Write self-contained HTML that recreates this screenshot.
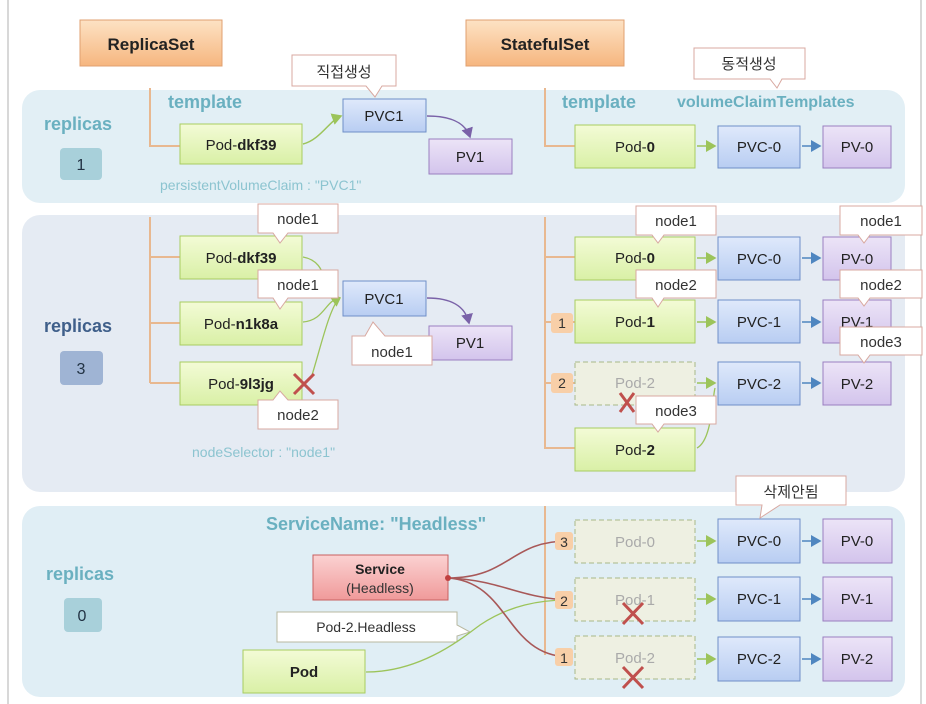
<!DOCTYPE html>
<html><head><meta charset="utf-8"><style>
html,body{margin:0;padding:0;background:#fff}
svg{display:block}
text{font-family:"Liberation Sans","Noto Sans CJK KR",sans-serif}
</style></head><body>
<svg width="926" height="704" viewBox="0 0 926 704" xmlns="http://www.w3.org/2000/svg">
<defs>
<linearGradient id="go" x1="0" y1="0" x2="0" y2="1"><stop offset="0" stop-color="#fde2c4"/><stop offset="1" stop-color="#f6b67f"/></linearGradient>
<linearGradient id="gg" x1="0" y1="0" x2="0" y2="1"><stop offset="0" stop-color="#f3fbd6"/><stop offset="1" stop-color="#d9f0a6"/></linearGradient>
<linearGradient id="gb" x1="0" y1="0" x2="0" y2="1"><stop offset="0" stop-color="#dfe9fb"/><stop offset="1" stop-color="#b8cdf2"/></linearGradient>
<linearGradient id="gp" x1="0" y1="0" x2="0" y2="1"><stop offset="0" stop-color="#ece4f7"/><stop offset="1" stop-color="#d3c4ec"/></linearGradient>
<linearGradient id="gr" x1="0" y1="0" x2="0" y2="1"><stop offset="0" stop-color="#fbd2d2"/><stop offset="1" stop-color="#f09a9a"/></linearGradient>
<marker id="ag" markerWidth="8" markerHeight="8" refX="6" refY="4" orient="auto"><path d="M0,0 L7,4 L0,8 z" fill="#9cc45a"/></marker>
<marker id="ab" markerWidth="8" markerHeight="8" refX="6" refY="4" orient="auto"><path d="M0,0 L7,4 L0,8 z" fill="#4f86c0"/></marker>
<marker id="ap" markerWidth="8" markerHeight="8" refX="6" refY="4" orient="auto"><path d="M0,0 L7,4 L0,8 z" fill="#7a62a8"/></marker>
</defs>
<line x1="8" y1="0" x2="8" y2="704" stroke="#d8d8d8" stroke-width="2"/>
<line x1="921" y1="0" x2="921" y2="704" stroke="#d8d8d8" stroke-width="2"/>
<!-- panels -->
<rect x="22" y="90" width="883" height="113" rx="18" fill="#e2eff5"/>
<rect x="22" y="215" width="883" height="277" rx="18" fill="#e5ebf3"/>
<rect x="22" y="506" width="883" height="191" rx="18" fill="#e0eef5"/>
<!-- headers -->
<rect x="80" y="20" width="142" height="46" fill="url(#go)" stroke="#e0a070"/>
<text x="151" y="50" font-size="17" font-weight="bold" text-anchor="middle" fill="#222">ReplicaSet</text>
<rect x="466" y="20" width="158" height="46" fill="url(#go)" stroke="#e0a070"/>
<text x="545" y="50" font-size="17" font-weight="bold" text-anchor="middle" fill="#222">StatefulSet</text>

<!-- panel 1 -->
<text x="78" y="130" font-size="18" font-weight="bold" fill="#6ab0c0" text-anchor="middle">replicas</text>
<rect x="60" y="148" width="42" height="32" rx="4" fill="#a8d0da"/>
<text x="81" y="170" font-size="16" text-anchor="middle" fill="#234">1</text>
<text x="168" y="108" font-size="18" font-weight="bold" fill="#6ab0c0">template</text>
<polyline points="150,88 150,146 180,146" fill="none" stroke="#e8b890" stroke-width="2"/>
<rect x="180" y="124" width="122" height="40" fill="url(#gg)" stroke="#a8cc60"/>
<text x="241" y="150" font-size="15" text-anchor="middle" fill="#222">Pod-<tspan font-weight="bold">dkf39</tspan></text>
<text x="160" y="190" font-size="14" fill="#8cc4d0">persistentVolumeClaim : "PVC1"</text>
<path d="M303,144 C320,140 330,120 341,116" fill="none" stroke="#9cc45a" stroke-width="1.5" marker-end="url(#ag)"/>
<rect x="343" y="99" width="83" height="33" fill="url(#gb)" stroke="#6f8fc8"/>
<text x="384" y="121" font-size="15" text-anchor="middle" fill="#222">PVC1</text>
<path d="M427,116 C450,116 465,122 470,137" fill="none" stroke="#7a62a8" stroke-width="1.5" marker-end="url(#ap)"/>
<rect x="429" y="139" width="83" height="35" fill="url(#gp)" stroke="#9a7fc0"/>
<text x="470" y="162" font-size="15" text-anchor="middle" fill="#222">PV1</text>
<path d="M292,55 H396 V86 H382 L375,97 L366,86 H292 Z" fill="#fff" stroke="#d8a8a0"/>
<text x="344" y="77" font-size="15" text-anchor="middle" fill="#333">직접생성</text>

<text x="562" y="108" font-size="18" font-weight="bold" fill="#6ab0c0">template</text>
<text x="677" y="107" font-size="16" font-weight="bold" fill="#6ab0c0">volumeClaimTemplates</text>
<polyline points="545,88 545,146 575,146" fill="none" stroke="#e8b890" stroke-width="2"/>
<rect x="575" y="125" width="120" height="43" fill="url(#gg)" stroke="#a8cc60"/>
<text x="635" y="152" font-size="15" text-anchor="middle" fill="#222">Pod-<tspan font-weight="bold">0</tspan></text>
<line x1="697" y1="146" x2="715" y2="146" stroke="#9cc45a" stroke-width="1.5" marker-end="url(#ag)"/>
<rect x="718" y="126" width="82" height="42" fill="url(#gb)" stroke="#6f8fc8"/>
<text x="759" y="152" font-size="15" text-anchor="middle" fill="#222">PVC-0</text>
<line x1="802" y1="146" x2="820" y2="146" stroke="#4f86c0" stroke-width="1.5" marker-end="url(#ab)"/>
<rect x="823" y="126" width="68" height="42" fill="url(#gp)" stroke="#9a7fc0"/>
<text x="857" y="152" font-size="15" text-anchor="middle" fill="#222">PV-0</text>
<path d="M694,48 H805 V79 H782 L777,88 L770,79 H694 Z" fill="#fff" stroke="#d8a8a0"/>
<text x="749" y="69" font-size="15" text-anchor="middle" fill="#333">동적생성</text>

<!-- panel 2 left -->
<text x="78" y="332" font-size="18" font-weight="bold" fill="#3f5f8a" text-anchor="middle">replicas</text>
<rect x="60" y="351" width="43" height="34" rx="4" fill="#9fb4d4"/>
<text x="81" y="374" font-size="16" text-anchor="middle" fill="#234">3</text>
<polyline points="150,217 150,383" fill="none" stroke="#e8b890" stroke-width="2"/>
<line x1="150" y1="257" x2="180" y2="257" stroke="#e8b890" stroke-width="2"/>
<line x1="150" y1="323" x2="180" y2="323" stroke="#e8b890" stroke-width="2"/>
<line x1="150" y1="383" x2="180" y2="383" stroke="#e8b890" stroke-width="2"/>
<rect x="180" y="236" width="122" height="43" fill="url(#gg)" stroke="#a8cc60"/>
<text x="241" y="263" font-size="15" text-anchor="middle" fill="#222">Pod-<tspan font-weight="bold">dkf39</tspan></text>
<rect x="180" y="302" width="122" height="43" fill="url(#gg)" stroke="#a8cc60"/>
<text x="241" y="329" font-size="15" text-anchor="middle" fill="#222">Pod-<tspan font-weight="bold">n1k8a</tspan></text>
<rect x="180" y="362" width="122" height="43" fill="url(#gg)" stroke="#a8cc60"/>
<text x="241" y="389" font-size="15" text-anchor="middle" fill="#222">Pod-<tspan font-weight="bold">9l3jg</tspan></text>
<path d="M303,257 C330,262 320,290 340,298" fill="none" stroke="#9cc45a" stroke-width="1.3"/>
<path d="M303,322 C325,320 325,300 340,298" fill="none" stroke="#9cc45a" stroke-width="1.3"/>
<path d="M312,375 C320,350 330,305 340,298" fill="none" stroke="#9cc45a" stroke-width="1.3" marker-end="url(#ag)"/>
<rect x="343" y="281" width="83" height="35" fill="url(#gb)" stroke="#6f8fc8"/>
<text x="384" y="304" font-size="15" text-anchor="middle" fill="#222">PVC1</text>
<path d="M427,298 C450,298 465,305 469,323" fill="none" stroke="#7a62a8" stroke-width="1.5" marker-end="url(#ap)"/>
<rect x="429" y="326" width="83" height="34" fill="url(#gp)" stroke="#9a7fc0"/>
<text x="470" y="348" font-size="15" text-anchor="middle" fill="#222">PV1</text>
<path d="M258,204 H338 V233 H288 L280,243 L273,233 H258 Z" fill="#fff" stroke="#d8a8a0"/>
<text x="298" y="224" font-size="15" text-anchor="middle" fill="#333">node1</text>
<path d="M258,270 H338 V298 H288 L280,309 L273,298 H258 Z" fill="#fff" stroke="#d8a8a0"/>
<text x="298" y="290" font-size="15" text-anchor="middle" fill="#333">node1</text>
<path d="M352,336 H365 L373,322 L385,336 H432 V365 H352 Z" fill="#fff" stroke="#d8a8a0"/>
<text x="392" y="357" font-size="15" text-anchor="middle" fill="#333">node1</text>
<path d="M258,400 H273 L280,391 L288,400 H338 V429 H258 Z" fill="#fff" stroke="#d8a8a0"/>
<text x="298" y="420" font-size="15" text-anchor="middle" fill="#333">node2</text>
<path d="M294,374 L314,394 M314,374 L294,394" stroke="#c0504d" stroke-width="3"/>
<text x="192" y="457" font-size="14" fill="#8cc4d0">nodeSelector : "node1"</text>

<!-- panel 2 right -->
<polyline points="545,217 545,448 575,448" fill="none" stroke="#e8b890" stroke-width="2"/>
<line x1="545" y1="257" x2="575" y2="257" stroke="#e8b890" stroke-width="2"/>
<line x1="545" y1="322" x2="575" y2="322" stroke="#e8b890" stroke-width="2"/>
<line x1="545" y1="383" x2="575" y2="383" stroke="#e8b890" stroke-width="2"/>
<rect x="551" y="313" width="22" height="20" rx="3" fill="#f8cfa8"/><text x="562" y="328" font-size="14" text-anchor="middle" fill="#333">1</text>
<rect x="551" y="373" width="22" height="20" rx="3" fill="#f8cfa8"/><text x="562" y="388" font-size="14" text-anchor="middle" fill="#333">2</text>
<rect x="575" y="237" width="120" height="43" fill="url(#gg)" stroke="#a8cc60"/>
<text x="635" y="263" font-size="15" text-anchor="middle" fill="#222">Pod-<tspan font-weight="bold">0</tspan></text>
<rect x="575" y="300" width="120" height="43" fill="url(#gg)" stroke="#a8cc60"/>
<text x="635" y="327" font-size="15" text-anchor="middle" fill="#222">Pod-<tspan font-weight="bold">1</tspan></text>
<rect x="575" y="362" width="120" height="43" fill="#eef0e2" stroke="#a8b888" stroke-dasharray="5,3"/>
<text x="635" y="388" font-size="15" text-anchor="middle" fill="#aaa">Pod-2</text>
<rect x="575" y="428" width="120" height="43" fill="url(#gg)" stroke="#a8cc60"/>
<text x="635" y="455" font-size="15" text-anchor="middle" fill="#222">Pod-<tspan font-weight="bold">2</tspan></text>
<path d="M620,393 L634,412 M634,393 L620,412" stroke="#c0504d" stroke-width="3"/>
<path d="M697,448 C712,440 712,400 715,388" fill="none" stroke="#9cc45a" stroke-width="1.3"/>
<g stroke-width="1.5">
<line x1="697" y1="258" x2="715" y2="258" stroke="#9cc45a" marker-end="url(#ag)"/>
<line x1="697" y1="322" x2="715" y2="322" stroke="#9cc45a" marker-end="url(#ag)"/>
<line x1="697" y1="383" x2="715" y2="383" stroke="#9cc45a" marker-end="url(#ag)"/>
<line x1="802" y1="258" x2="820" y2="258" stroke="#4f86c0" marker-end="url(#ab)"/>
<line x1="802" y1="322" x2="820" y2="322" stroke="#4f86c0" marker-end="url(#ab)"/>
<line x1="802" y1="383" x2="820" y2="383" stroke="#4f86c0" marker-end="url(#ab)"/>
</g>
<rect x="718" y="237" width="82" height="43" fill="url(#gb)" stroke="#6f8fc8"/><text x="759" y="264" font-size="15" text-anchor="middle" fill="#222">PVC-0</text>
<rect x="718" y="300" width="82" height="43" fill="url(#gb)" stroke="#6f8fc8"/><text x="759" y="327" font-size="15" text-anchor="middle" fill="#222">PVC-1</text>
<rect x="718" y="362" width="82" height="43" fill="url(#gb)" stroke="#6f8fc8"/><text x="759" y="389" font-size="15" text-anchor="middle" fill="#222">PVC-2</text>
<rect x="823" y="237" width="68" height="43" fill="url(#gp)" stroke="#9a7fc0"/><text x="857" y="264" font-size="15" text-anchor="middle" fill="#222">PV-0</text>
<rect x="823" y="300" width="68" height="43" fill="url(#gp)" stroke="#9a7fc0"/><text x="857" y="327" font-size="15" text-anchor="middle" fill="#222">PV-1</text>
<rect x="823" y="362" width="68" height="43" fill="url(#gp)" stroke="#9a7fc0"/><text x="857" y="389" font-size="15" text-anchor="middle" fill="#222">PV-2</text>
<g fill="#fff" stroke="#d8a8a0">
<path d="M636,206 H716 V235 H664 L658,243 L652,235 H636 Z"/>
<path d="M636,270 H716 V298 H664 L658,307 L652,298 H636 Z"/>
<path d="M636,396 H716 V424 H664 L658,432 L652,424 H636 Z"/>
<path d="M840,206 H922 V235 H870 L864,243 L858,235 H840 Z"/>
<path d="M840,270 H922 V298 H870 L864,306 L858,298 H840 Z"/>
<path d="M840,327 H922 V355 H870 L864,363 L858,355 H840 Z"/>
</g>
<g font-size="15" text-anchor="middle" fill="#333">
<text x="676" y="226">node1</text><text x="676" y="290">node2</text><text x="676" y="416">node3</text>
<text x="881" y="226">node1</text><text x="881" y="290">node2</text><text x="881" y="347">node3</text>
</g>

<!-- panel 3 -->
<text x="80" y="580" font-size="18" font-weight="bold" fill="#6ab0c0" text-anchor="middle">replicas</text>
<rect x="64" y="598" width="38" height="34" rx="4" fill="#a8d0da"/>
<text x="82" y="621" font-size="16" text-anchor="middle" fill="#234">0</text>
<text x="266" y="530" font-size="18" font-weight="bold" fill="#6ab0c0">ServiceName: "Headless"</text>
<line x1="545" y1="506" x2="545" y2="655" stroke="#e8b890" stroke-width="2"/>
<rect x="313" y="555" width="135" height="45" fill="url(#gr)" stroke="#c86060"/>
<text x="380" y="574" font-size="14" font-weight="bold" text-anchor="middle" fill="#222">Service</text>
<text x="380" y="593" font-size="14" text-anchor="middle" fill="#333">(Headless)</text>
<path d="M277,612 H457 V625 L470,632 L457,636 V642 H277 Z" fill="#fff" stroke="#b8b8a0"/>
<text x="366" y="632" font-size="14" text-anchor="middle" fill="#333">Pod-2.Headless</text>
<rect x="243" y="650" width="122" height="43" fill="url(#gg)" stroke="#a8cc60"/>
<text x="304" y="677" font-size="15" font-weight="bold" text-anchor="middle" fill="#222">Pod</text>
<path d="M366,672 C420,672 460,640 480,625 C510,605 540,600 568,600" fill="none" stroke="#9cc45a" stroke-width="1.3"/>
<g fill="none" stroke="#a85858" stroke-width="1.6">
<path d="M448,578 C510,578 510,541 568,541"/>
<path d="M448,578 C500,580 520,598 568,600"/>
<path d="M448,578 C510,582 505,655 568,657"/>
</g>
<circle cx="448" cy="578" r="3" fill="#c04040"/>
<rect x="555" y="532" width="18" height="18" rx="3" fill="#f8cfa8"/><text x="564" y="547" font-size="14" text-anchor="middle" fill="#333">3</text>
<rect x="555" y="591" width="18" height="18" rx="3" fill="#f8cfa8"/><text x="564" y="606" font-size="14" text-anchor="middle" fill="#333">2</text>
<rect x="555" y="648" width="18" height="18" rx="3" fill="#f8cfa8"/><text x="564" y="663" font-size="14" text-anchor="middle" fill="#333">1</text>
<rect x="575" y="520" width="120" height="43" fill="#eef0e2" stroke="#a8b888" stroke-dasharray="5,3"/>
<text x="635" y="547" font-size="15" text-anchor="middle" fill="#aaa">Pod-0</text>
<rect x="575" y="578" width="120" height="43" fill="#eef0e2" stroke="#a8b888" stroke-dasharray="5,3"/>
<text x="635" y="605" font-size="15" text-anchor="middle" fill="#aaa">Pod-1</text>
<rect x="575" y="636" width="120" height="43" fill="#eef0e2" stroke="#a8b888" stroke-dasharray="5,3"/>
<text x="635" y="663" font-size="15" text-anchor="middle" fill="#aaa">Pod-2</text>
<path d="M623,603 L643,624 M643,603 L623,624" stroke="#c0504d" stroke-width="3"/>
<path d="M623,667 L643,688 M643,667 L623,688" stroke="#c0504d" stroke-width="3"/>
<g stroke-width="1.5">
<line x1="697" y1="541" x2="715" y2="541" stroke="#9cc45a" marker-end="url(#ag)"/>
<line x1="697" y1="599" x2="715" y2="599" stroke="#9cc45a" marker-end="url(#ag)"/>
<line x1="697" y1="659" x2="715" y2="659" stroke="#9cc45a" marker-end="url(#ag)"/>
<line x1="802" y1="541" x2="820" y2="541" stroke="#4f86c0" marker-end="url(#ab)"/>
<line x1="802" y1="599" x2="820" y2="599" stroke="#4f86c0" marker-end="url(#ab)"/>
<line x1="802" y1="659" x2="820" y2="659" stroke="#4f86c0" marker-end="url(#ab)"/>
</g>
<rect x="718" y="519" width="82" height="44" fill="url(#gb)" stroke="#6f8fc8"/><text x="759" y="546" font-size="15" text-anchor="middle" fill="#222">PVC-0</text>
<rect x="718" y="577" width="82" height="44" fill="url(#gb)" stroke="#6f8fc8"/><text x="759" y="604" font-size="15" text-anchor="middle" fill="#222">PVC-1</text>
<rect x="718" y="637" width="82" height="44" fill="url(#gb)" stroke="#6f8fc8"/><text x="759" y="664" font-size="15" text-anchor="middle" fill="#222">PVC-2</text>
<rect x="823" y="519" width="69" height="44" fill="url(#gp)" stroke="#9a7fc0"/><text x="857" y="546" font-size="15" text-anchor="middle" fill="#222">PV-0</text>
<rect x="823" y="577" width="69" height="44" fill="url(#gp)" stroke="#9a7fc0"/><text x="857" y="604" font-size="15" text-anchor="middle" fill="#222">PV-1</text>
<rect x="823" y="637" width="69" height="44" fill="url(#gp)" stroke="#9a7fc0"/><text x="857" y="664" font-size="15" text-anchor="middle" fill="#222">PV-2</text>
<path d="M736,476 H846 V505 H780 L760,518 L762,505 H736 Z" fill="#fff" stroke="#d8a8a0"/>
<text x="791" y="497" font-size="15" text-anchor="middle" fill="#333">삭제안됨</text>
</svg>
</body></html>
